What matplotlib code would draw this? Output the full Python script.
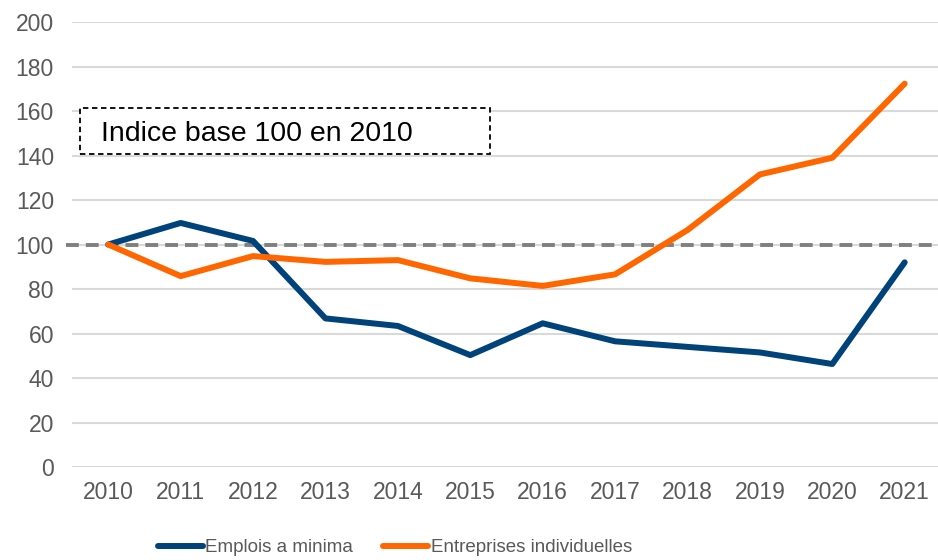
import numpy as np
import matplotlib.pyplot as plt
from matplotlib.patches import Rectangle

plt.rcParams['font.family'] = ['Liberation Sans', 'DejaVu Sans']

years = ['2010', '2011', '2012', '2013', '2014', '2015', '2016', '2017', '2018', '2019', '2020', '2021']
emplois = [100, 109.7, 101.6, 66.8, 63.4, 50.3, 64.6, 56.5, 54, 51.5, 46.3, 92]
entreprises = [100, 85.8, 94.8, 92.2, 93, 84.8, 81.4, 86.6, 106.5, 131.5, 139, 172.3]
base = 100

x = np.arange(len(years))

fig = plt.figure(figsize=(9.38, 5.6), dpi=100)
ax = fig.add_axes([0.0768, 0.166, 0.9232, 0.7947])

ax.set_ylim(0, 200)
ax.set_xlim(-0.5, 11.46)
ax.set_yticks(np.arange(0, 201, 20))
ax.set_xticks(x)
ax.set_xticklabels(years)
ax.grid(axis='y', color='#D9D9D9', linewidth=1.5)
ax.set_axisbelow(True)
for s in ax.spines.values():
    s.set_visible(False)
ax.tick_params(length=0, labelsize=16.5, colors='#595959')
ax.tick_params(axis='y', pad=13)
ax.tick_params(axis='x', pad=10)

ax.plot([-0.58, 11.46], [base, base], color='#7F7F7F', linewidth=2.8,
        linestyle=(0, (3.3, 1.8)), clip_on=False, zorder=2)
ax.plot(x, emplois, color='#00427A', linewidth=4.3, label='Emplois a minima',
        solid_capstyle='round', zorder=3)
ax.plot(x, entreprises, color='#FF6600', linewidth=4.3, label='Entreprises individuelles',
        solid_capstyle='round', zorder=3)

ax.add_patch(Rectangle((0.0092, 0.703), 0.473, 0.104, transform=ax.transAxes,
                       fill=True, facecolor='white', edgecolor='black',
                       linestyle=(0, (3, 2)), linewidth=1.3, zorder=4))
ax.text(0.0335, 0.749, 'Indice base 100 en 2010', transform=ax.transAxes,
        fontsize=20.5, va='center', ha='left', color='black', zorder=5)

leg = fig.legend(loc='center', bbox_to_anchor=(0.421, 0.022), ncol=2, frameon=False,
                 fontsize=13.5, handlelength=2.4, handletextpad=0.15, columnspacing=1.6,
                 borderpad=0)
for t in leg.get_texts():
    t.set_color('#595959')

fig.savefig('out.png', dpi=100)
